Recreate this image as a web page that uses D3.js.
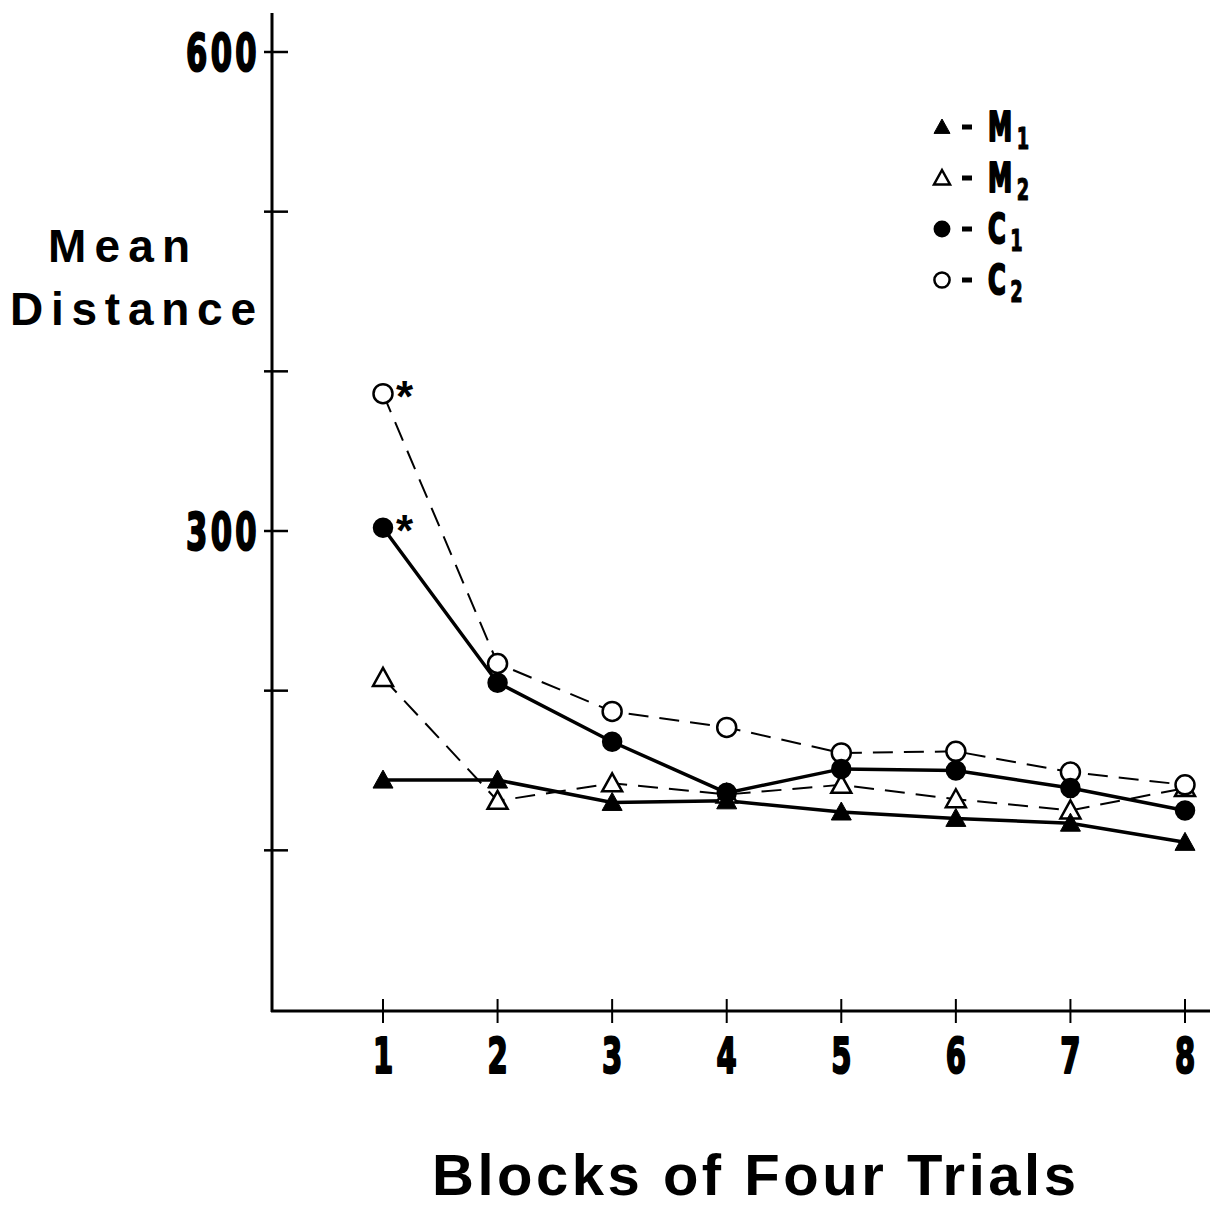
<!DOCTYPE html>
<html>
<head>
<meta charset="utf-8">
<script src="https://cdn.jsdelivr.net/npm/d3@7"></script>
<style>
  html, body { margin: 0; padding: 0; background: #fff; }
  svg { display: block; }
  .cond { font-family: "Liberation Sans Narrow", "DejaVu Sans Condensed", "Liberation Sans", sans-serif; font-weight: bold; stroke: #000; stroke-width: 1.6; stroke-linejoin: round; }
  .wide { font-family: "Liberation Sans", Arial, sans-serif; font-weight: bold; }
</style>
</head>
<body>
<script>
// ── Data ──────────────────────────────────────────────────────────────────────
const blocks   = [1, 2, 3, 4, 5, 6, 7, 8];
const m1Values = [144, 144, 130, 131, 124, 120, 117, 105];
const m2Values = [208, 131, 142, 135, 141, 132, 125, 139];
const c1Values = [302, 205, 168, 136, 151, 150, 139, 125];
const c2Values = [386, 217, 187, 177, 161, 162, 149, 141];
const yTicks        = [100, 200, 300, 400, 500, 600];
const yTickLabels   = { 300: '300', 600: '600' };
const legendSeries  = [
  { key: 'M', sub: '1', marker: 'triFilled' },
  { key: 'M', sub: '2', marker: 'triOpen' },
  { key: 'C', sub: '1', marker: 'dotFilled' },
  { key: 'C', sub: '2', marker: 'dotOpen' },
];
const starredSeries = ['C2', 'C1'];

// ── Layout ────────────────────────────────────────────────────────────────────
const W = 1210, H = 1212;
const AXIS_X = 272, AXIS_Y = 1011;

const svg = d3.select('body').append('svg')
  .attr('width', W).attr('height', H);

const x = d3.scaleLinear().domain([1, 8]).range([383, 1185]);
const y = d3.scaleLinear().domain([0, 600]).range([1010, 52]);

// ── Axes ──────────────────────────────────────────────────────────────────────
svg.append('line')
  .attr('x1', AXIS_X).attr('x2', AXIS_X)
  .attr('y1', 13).attr('y2', AXIS_Y + 1)
  .attr('stroke', '#000').attr('stroke-width', 3);

svg.append('line')
  .attr('x1', AXIS_X - 1).attr('x2', W)
  .attr('y1', AXIS_Y).attr('y2', AXIS_Y)
  .attr('stroke', '#000').attr('stroke-width', 3);

svg.selectAll('line.ytick').data(yTicks).join('line')
  .attr('class', 'ytick')
  .attr('x1', AXIS_X - 8).attr('x2', AXIS_X + 16)
  .attr('y1', d => y(d)).attr('y2', d => y(d))
  .attr('stroke', '#000').attr('stroke-width', 2.5);

svg.selectAll('text.ylab').data(yTicks.filter(d => yTickLabels[d])).join('text')
  .attr('class', 'ylab cond')
  .attr('transform', d => `translate(${AXIS_X - 12},${y(d) + 19}) scale(0.85,1.3)`)
  .attr('text-anchor', 'end')
  .attr('font-size', 40)
  .attr('letter-spacing', 4)
  .text(d => yTickLabels[d]);

svg.selectAll('line.xtick').data(blocks).join('line')
  .attr('class', 'xtick')
  .attr('x1', d => x(d)).attr('x2', d => x(d))
  .attr('y1', AXIS_Y - 12).attr('y2', AXIS_Y + 12)
  .attr('stroke', '#000').attr('stroke-width', 2);

svg.selectAll('text.xlab').data(blocks).join('text')
  .attr('class', 'xlab cond')
  .attr('transform', d => `translate(${x(d)},${AXIS_Y + 62}) scale(0.85,1.3)`)
  .attr('text-anchor', 'middle')
  .attr('font-size', 38)
  .text(d => d);

// ── Axis titles ───────────────────────────────────────────────────────────────
svg.append('text').attr('class', 'wide')
  .attr('x', 48).attr('y', 262)
  .attr('font-size', 46)
  .attr('textLength', 142).attr('lengthAdjust', 'spacing')
  .text('Mean');

svg.append('text').attr('class', 'wide')
  .attr('x', 10).attr('y', 325)
  .attr('font-size', 46)
  .attr('textLength', 246).attr('lengthAdjust', 'spacing')
  .text('Distance');

svg.append('text').attr('class', 'wide')
  .attr('x', 432).attr('y', 1195)
  .attr('font-size', 58)
  .attr('textLength', 644).attr('lengthAdjust', 'spacing')
  .text('Blocks of Four Trials');

// ── Markers ───────────────────────────────────────────────────────────────────
function drawMarker(g, type, cx, cy, k = 1) {
  if (type === 'triFilled' || type === 'triOpen') {
    const s = 10 * k;
    g.append('path')
      .attr('d', `M${cx},${cy - s}L${cx + s},${cy + s * 0.8}L${cx - s},${cy + s * 0.8}Z`)
      .attr('fill', type === 'triFilled' ? '#000' : '#fff')
      .attr('stroke', '#000').attr('stroke-width', type === 'triFilled' ? 1 : 2.5)
      .attr('stroke-linejoin', 'miter');
  } else {
    g.append('circle')
      .attr('cx', cx).attr('cy', cy)
      .attr('r', (type === 'dotFilled' ? 9 : 9.5) * k)
      .attr('fill', type === 'dotFilled' ? '#000' : '#fff')
      .attr('stroke', '#000').attr('stroke-width', 2.5);
  }
}

// ── Series ────────────────────────────────────────────────────────────────────
const series = [
  { name: 'M2', values: m2Values, marker: 'triOpen',   dash: '20,11', width: 2 },
  { name: 'C2', values: c2Values, marker: 'dotOpen',   dash: '20,11', width: 2 },
  { name: 'M1', values: m1Values, marker: 'triFilled', dash: null,    width: 3.5 },
  { name: 'C1', values: c1Values, marker: 'dotFilled', dash: null,    width: 3.5 },
];

const line = d3.line().x((d, i) => x(blocks[i])).y(d => y(d));

series.forEach(s => {
  svg.append('path')
    .datum(s.values)
    .attr('d', line)
    .attr('fill', 'none')
    .attr('stroke', '#000')
    .attr('stroke-width', s.width)
    .attr('stroke-dasharray', s.dash);
});

series.forEach(s => {
  const g = svg.append('g').attr('class', 'marks-' + s.name);
  s.values.forEach((v, i) => drawMarker(g, s.marker, x(blocks[i]), y(v)));
});

// asterisks on block 1 for C2 and C1
starredSeries.forEach(name => {
  const s = series.find(d => d.name === name);
  svg.append('text').attr('class', 'wide')
    .attr('x', x(blocks[0]) + 13).attr('y', y(s.values[0]) + 18)
    .attr('font-size', 44)
    .text('*');
});

// ── Legend ────────────────────────────────────────────────────────────────────
const legend = svg.append('g').attr('transform', 'translate(942,127)');
legendSeries.forEach((d, i) => {
  const cy = i * 51;
  const g = legend.append('g');
  drawMarker(g, d.marker, 0, cy, 0.8);
  g.append('rect').attr('x', 20).attr('y', cy - 2.5).attr('width', 10).attr('height', 5).attr('fill', '#000');
  const t = g.append('text').attr('class', 'cond')
    .attr('transform', `translate(46,${cy + 14}) scale(0.9,1.35)`)
    .attr('font-size', 30)
    .text(d.key);
  t.append('tspan').attr('font-size', 22).attr('dx', 5).attr('dy', 6).attr('stroke-width', 0.8).text(d.sub);
});
</script>
</body>
</html>
